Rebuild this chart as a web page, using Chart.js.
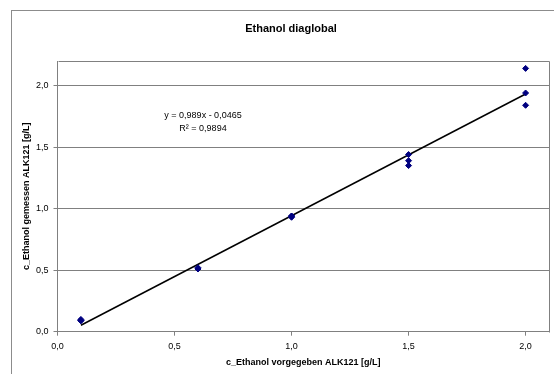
<!DOCTYPE html>
<html>
<head>
<meta charset="utf-8">
<script src="https://cdn.jsdelivr.net/npm/chart.js@4/dist/chart.umd.min.js"></script>
<style>
  html, body { margin: 0; padding: 0; background: #fff; }
  #wrap { width: 554px; height: 374px; position: relative; }
</style>
</head>
<body>
<div id="wrap"><canvas id="grafico" width="554" height="374"></canvas></div>
<script>
// Datos
const vorgegeben = [0.1, 0.1, 0.1, 0.6, 0.6, 0.6, 1.0, 1.0, 1.0, 1.5, 1.5, 1.5, 2.0, 2.0, 2.0];
const gemessen   = [0.09, 0.09, 0.10, 0.51, 0.51, 0.52, 0.93, 0.94, 0.94, 1.44, 1.39, 1.35, 2.14, 1.94, 1.84];
const trendSlope = 0.989;
const trendIntercept = -0.0465;
const trendRange = [0.1, 2.0];
const gleichung = ['y = 0,989x - 0,0465', 'R² = 0,9894'];

const fontFam = 'Arial, "Liberation Sans", sans-serif';
const fmt = v => v.toFixed(1).replace('.', ',');

// Marco exterior, título y ecuación
const extras = {
    id: 'extras',
    beforeDraw(chart) {
        const c = chart.ctx;
        c.save();
        c.fillStyle = '#fff';
        c.fillRect(0, 0, chart.width, chart.height);
        c.strokeStyle = '#8c8c8c';
        c.lineWidth = 1;
        c.strokeRect(11.5, 10.5, 700, 500);
        c.restore();
    },
    afterDraw(chart) {
        const c = chart.ctx;
        const a = chart.chartArea;
        c.save();
        c.strokeStyle = '#808080';
        c.lineWidth = 1;
        c.beginPath();
        c.moveTo(Math.round(a.left) + 0.5, Math.round(a.top) + 0.5);
        c.lineTo(Math.round(a.right) + 0.5, Math.round(a.top) + 0.5);
        c.lineTo(Math.round(a.right) + 0.5, Math.round(a.bottom) + 0.5);
        c.stroke();

        c.fillStyle = '#000';
        c.textAlign = 'center';
        c.textBaseline = 'middle';
        c.font = 'bold 11px ' + fontFam;
        c.fillText('Ethanol diaglobal', 291, 29);

        c.font = '9px ' + fontFam;
        c.fillText(gleichung[0], 203, 116);
        c.fillText(gleichung[1], 203, 129);
        c.restore();
    }
};

const ctx = document.getElementById('grafico').getContext('2d');
new Chart(ctx, {
    type: 'scatter',
    data: {
        datasets: [{
            label: 'Ethanol',
            data: vorgegeben.map((x, i) => ({ x: x, y: gemessen[i] })),
            pointStyle: 'rectRot',
            pointRadius: 3,
            backgroundColor: '#000080',
            borderColor: '#000080',
            borderWidth: 1,
            order: 1
        }, {
            label: 'Trend',
            type: 'line',
            data: trendRange.map(x => ({ x: x, y: trendSlope * x + trendIntercept })),
            borderColor: '#000',
            borderWidth: 1.5,
            pointRadius: 0,
            fill: false,
            order: 2
        }]
    },
    options: {
        responsive: false,
        animation: false,
        layout: {
            padding: { top: 61, right: 3.5, left: 0, bottom: 0 }
        },
        plugins: {
            legend: { display: false },
            tooltip: { enabled: false }
        },
        scales: {
            x: {
                type: 'linear',
                min: 0,
                max: 2.1,
                afterFit: s => { s.height = 42.3; },
                ticks: {
                    stepSize: 0.5,
                    includeBounds: false,
                    padding: 5,
                    color: '#000',
                    font: { family: fontFam, size: 9 },
                    callback: v => fmt(v),
                    maxRotation: 0
                },
                grid: {
                    drawOnChartArea: false,
                    color: '#808080',
                    tickLength: 4
                },
                border: { color: '#808080' },
                title: {
                    display: true,
                    text: 'c_Ethanol vorgegeben ALK121 [g/L]',
                    color: '#000',
                    font: { family: fontFam, size: 9, weight: 'bold' },
                    padding: { top: 0, bottom: 6 }
                }
            },
            y: {
                min: 0,
                max: 2.2,
                afterFit: s => { s.width = 57.5; },
                ticks: {
                    stepSize: 0.5,
                    includeBounds: false,
                    padding: 5,
                    color: '#000',
                    font: { family: fontFam, size: 9 },
                    callback: v => fmt(v)
                },
                grid: {
                    color: '#808080',
                    tickLength: 4
                },
                border: { color: '#808080' },
                title: {
                    display: true,
                    text: 'c_Ethanol gemessen ALK121 [g/L]',
                    color: '#000',
                    font: { family: fontFam, size: 9, weight: 'bold' },
                    padding: { top: 21, bottom: 0 }
                }
            }
        }
    },
    plugins: [extras]
});
</script>
</body>
</html>
